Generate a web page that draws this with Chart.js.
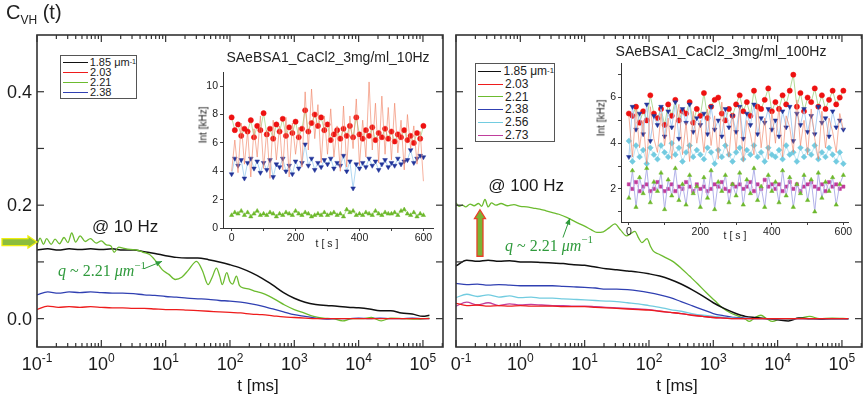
<!DOCTYPE html>
<html>
<head>
<meta charset="utf-8">
<script src="https://cdn.jsdelivr.net/npm/chart.js@4.4.1/dist/chart.umd.min.js"></script>
<style>
  body { margin:0; width:865px; height:396px; position:relative; overflow:hidden; background:#fff;
         font-family:"Liberation Sans", Arial, sans-serif; color:#222; }
  canvas { position:absolute; }
  .txt { position:absolute; white-space:nowrap; }
  .rot { position:absolute; white-space:nowrap; transform:translate(-50%,-50%) rotate(-90deg); font-size:10px; }
  .ctr { position:absolute; white-space:nowrap; transform:translate(-50%,-50%); }
  .legend { position:absolute; border:1px solid #555; background:#fff; box-sizing:border-box; padding:1px 0 0 2px; }
  .legend div { display:flex; align-items:center; white-space:nowrap; }
  .legend span.ln { display:inline-block; width:25px; height:0; border-top-width:1.6px; border-top-style:solid; margin-right:2px; }
  sup { font-size:65%; vertical-align:5px; line-height:0; }
</style>
</head>
<body>
<canvas id="mainL" width="450" height="396" style="left:0;top:0"></canvas>
<canvas id="mainR" width="415" height="396" style="left:450px;top:0"></canvas>
<canvas id="insetL" width="255" height="190" style="left:185px;top:62px"></canvas>
<canvas id="insetR" width="280" height="190" style="left:585px;top:55px"></canvas>

<div class="txt" style="left:6px;top:1px;font-size:20px">C<sub style="font-size:12px">VH</sub> (t)</div>

<div class="txt" style="left:220px;top:49px;width:216px;text-align:center;font-size:14px">SAeBSA1_CaCl2_3mg/ml_10Hz</div>
<div class="txt" style="left:610px;top:43px;width:222px;text-align:center;font-size:14px">SAeBSA1_CaCl2_3mg/ml_100Hz</div>
<div class="rot" style="left:203px;top:125px">Int [kHz]</div>
<div class="rot" style="left:601px;top:118px">Int [kHz]</div>
<div class="ctr" style="left:327px;top:243px;font-size:10.5px">t [ s ]</div>
<div class="ctr" style="left:735px;top:235px;font-size:10.5px">t [ s ]</div>

<div class="legend" id="legL" style="left:60px;top:55px;width:77px;height:44px;font-size:11px;line-height:10px"></div>
<div class="legend" id="legR" style="left:475px;top:63px;width:80px;height:79px;font-size:12px;line-height:12.8px"></div>

<script>
// ---------- main panels: correlation vs lag time (ms) ----------
const TIME = [0.1, 0.147, 0.215, 0.316, 0.464, 0.681, 1, 1.47, 2.15, 3.16, 4.64, 6.81, 10, 14.7, 21.5, 31.6, 46.4, 68.1,
  100, 147, 215, 316, 464, 681, 1000, 1470, 2150, 3160, 4640, 6810, 10000, 14700, 21500, 31600, 46400, 68100, 100000, 126000];

// 10 Hz
const L_185 = [0.121,0.123,0.121,0.123,0.122,0.123,0.122,0.123,0.121,0.121,0.118,0.115,0.111,0.108,0.107,0.107,0.104,0.100,
  0.095,0.089,0.081,0.071,0.059,0.046,0.036,0.029,0.025,0.023,0.022,0.020,0.019,0.017,0.014,0.014,0.010,0.008,0.004,0.006];
const L_203 = [0.016,0.022,0.020,0.021,0.020,0.021,0.020,0.019,0.019,0.018,0.018,0.017,0.016,0.016,0.015,0.014,0.013,0.012,
  0.011,0.010,0.008,0.007,0.005,0.003,0.002,0.001,0,0,0,0,0,0,0,0,0,0,0,0];
const L_238 = [0.042,0.047,0.045,0.047,0.046,0.047,0.046,0.045,0.045,0.044,0.042,0.041,0.039,0.038,0.036,0.035,0.034,0.032,
  0.031,0.029,0.026,0.022,0.017,0.012,0.007,0.004,0.001,-0.001,0,0,0.001,0,0.001,0,0,0.001,0,0];
const L_221_T = [0.1,0.112,0.126,0.141,0.166,0.191,0.224,0.263,0.302,0.347,0.398,0.468,0.562,0.676,0.832,
  1,1.2,1.41,1.58,1.86,2.24,2.82,3.55,4.47,5.62,7.08,8.91,11.2,14.1,17.8,22.4,30.2,37.2,45.7,52.5,61.7,69.2,75.9,89.1,
  100,110,126,141,166,200,251,316,398,501,708,1000,1410,2000,2820,3980,5620,7940,11200,15800,22400,31600,50100,79400,126000];
const L_221 = [0.130,0.142,0.131,0.141,0.131,0.140,0.132,0.143,0.134,0.151,0.135,0.146,0.136,0.141,0.133,
  0.137,0.130,0.128,0.117,0.126,0.124,0.122,0.121,0.117,0.113,0.101,0.086,0.078,0.069,0.073,0.085,0.101,0.085,0.060,0.072,0.089,0.075,0.060,0.081,
  0.065,0.061,0.075,0.058,0.054,0.052,0.048,0.045,0.040,0.034,0.024,0.016,0.010,0.004,0.001,0.000,-0.004,0.000,0.000,0.002,-0.004,0.001,0.000,-0.001,0.001];

// 100 Hz
const R_185 = [0.093,0.103,0.101,0.103,0.101,0.102,0.100,0.100,0.099,0.098,0.097,0.095,0.094,0.091,0.088,0.086,0.084,0.082,
  0.079,0.075,0.069,0.061,0.051,0.040,0.028,0.018,0.010,0.004,0.002,0.000,-0.002,-0.004,0.001,0.000,-0.001,0.000,0.000,0.000];
const R_203 = [0.027,0.023,0.024,0.022,0.023,0.022,0.023,0.022,0.022,0.022,0.021,0.021,0.021,0.020,0.019,0.018,0.017,0.016,
  0.015,0.013,0.011,0.009,0.006,0.004,0.002,0.001,0,0,0,0,0,0,0,0,0,0,0,0];
const R_238 = [0.062,0.060,0.061,0.059,0.060,0.059,0.058,0.058,0.058,0.058,0.057,0.056,0.055,0.054,0.052,0.052,0.051,0.049,
  0.046,0.042,0.037,0.030,0.023,0.016,0.009,0.005,0.002,0.001,0,0,0,0,0,0,0,0,0,0];
const R_256 = [0.037,0.043,0.039,0.042,0.038,0.040,0.037,0.038,0.036,0.036,0.035,0.034,0.033,0.032,0.031,0.030,0.028,0.026,
  0.023,0.020,0.016,0.013,0.009,0.006,0.004,0.002,0.001,0,0,0,0,0,0,0,0,0,0,0];
const R_273 = [0.022,0.029,0.024,0.028,0.023,0.026,0.024,0.025,0.024,0.023,0.023,0.022,0.022,0.021,0.020,0.019,0.018,0.017,
  0.016,0.013,0.011,0.009,0.006,0.004,0.002,0.001,0,0,0,0,0,0,0,0,0,0,0,0];
const R_221_T = [0.1,0.112,0.126,0.141,0.166,0.191,0.224,0.251,0.282,0.316,0.355,0.417,0.501,0.631,0.794,
  1,1.26,1.58,2.0,2.51,3.16,3.98,5.37,7.08,10,12.6,15.5,19.5,24,29.5,36.3,44.7,52.5,60.3,69.2,77.6,93.3,
  105,117,141,178,234,316,427,575,776,1050,1380,1860,2510,3160,3630,4470,5500,6760,8320,11200,15800,22400,31600,44700,70800,126000];
const R_221 = [0.204,0.198,0.200,0.197,0.202,0.199,0.203,0.198,0.210,0.197,0.204,0.200,0.203,0.199,0.201,
  0.198,0.197,0.195,0.193,0.190,0.187,0.184,0.178,0.171,0.163,0.157,0.152,0.153,0.160,0.167,0.156,0.146,0.150,0.154,0.142,0.134,0.141,
  0.128,0.119,0.114,0.108,0.101,0.089,0.075,0.061,0.046,0.032,0.019,0.010,0.004,-0.001,-0.005,0.002,0.006,0.000,-0.005,0.000,-0.001,0.001,0.004,0.000,0.001,0.000];

// axis ticks of main panels
const X_DECADES = [0.1, 1, 10, 100, 1000, 10000, 100000];
const Y_TICKS = [0, 0.1, 0.2, 0.3, 0.4];
const Y_LABELS = [0, 0.2, 0.4];

// ---------- insets: intensity vs time (s) ----------
const INSET_T = [0,10,20,30,40,50,60,70,80,90,100,110,120,130,140,150,160,170,180,190,200,210,220,230,240,250,260,270,280,290,300,
  310,320,330,340,350,360,370,380,390,400,410,420,430,440,450,460,470,480,490,500,510,520,530,540,550,560,570,580,590,600];

const I10_185 = [4.0,6.2,3.9,7.4,4.5,6.8,3.6,7.0,5.0,7.9,4.2, 6.9,3.5,7.6,4.8,7.2,4.1,7.8,3.6,7.4,5.2, 7.1,4.3,9.6,5.5,9.8,6.3,8.7,4.6,7.9,5.2,
  8.4,5.0,7.2,4.0,8.6,4.3,7.9,5.6,9.1,4.4, 7.6,5.0,10.3,5.5,8.8,4.6,9.3,5.2,8.5,4.8, 8.8,5.3,7.6,4.1,8.0,5.6,7.2,4.5,6.8,3.3];
const I10_203 = [7.8,6.9,7.3,6.5,7.0,6.8,7.6,6.4,7.2,6.9,8.1, 6.6,7.0,6.3,7.3,6.8,7.7,6.5,7.1,6.7,7.5, 6.4,7.0,8.3,6.8,7.4,8.0,7.2,7.8,6.9,7.3,
  6.2,6.6,6.9,6.3,7.0,6.5,7.2,6.4,7.8,6.6, 6.3,6.9,6.5,7.1,6.2,6.7,6.4,7.0,6.3,6.8, 6.1,6.6,6.4,6.9,6.2,6.5,6.0,6.7,6.3,7.2];
const I10_221 = [0.9,1.1,1.0,1.2,0.9,1.1,0.8,1.0,1.2,0.9,1.0, 0.9,1.1,1.0,0.8,1.0,0.9,1.1,1.0,0.9,1.2, 1.0,0.9,1.1,1.0,0.8,0.9,1.0,0.9,1.1,0.9,
  1.0,1.1,0.9,1.0,0.8,1.3,1.1,1.2,0.9,1.0, 0.9,1.1,1.0,0.9,1.2,1.0,0.9,1.1,1.0,1.0, 1.1,0.9,1.2,1.3,1.0,0.9,1.1,0.8,1.0,0.9];
const I10_238 = [3.8,4.9,4.4,4.8,3.5,4.6,4.9,4.2,4.7,3.9,4.6, 4.1,4.8,3.6,4.5,4.3,4.9,4.0,4.4,3.8,4.7, 4.2,4.6,5.9,4.4,4.9,4.1,4.6,4.3,4.8,4.5,
  4.9,4.2,4.6,4.4,5.1,4.0,4.7,2.8,4.5,4.2, 4.6,4.3,4.9,4.4,4.7,4.1,4.5,4.8,4.3,4.6, 4.4,4.9,4.5,4.7,4.8,5.5,4.6,4.9,5.1,5.0];

const I100_185 = [5.2,3.4,5.5,3.8,5.0,3.1,5.6,4.2,3.6,5.3,3.9, 5.1,3.3,4.8,5.7,3.5,4.9,3.2,5.4,4.0,5.0, 3.6,5.5,3.9,5.2,3.3,5.8,4.1,3.4,5.3,3.7,
  5.6,3.2,5.0,4.4,3.5,5.7,3.8,5.1,3.3,5.4, 4.0,5.6,3.4,5.2,4.7,3.6,5.9,3.9,5.0,3.5, 5.5,4.2,3.3,5.4,3.8,5.1,4.5,3.6,5.3,4.6];
const I100_203 = [5.3,5.2,5.6,4.9,5.4,5.0,6.1,5.3,5.1,5.5,4.8, 5.7,5.2,5.9,5.0,5.4,5.3,5.8,4.9,5.5,5.2, 6.2,5.1,5.6,5.9,6.0,5.3,5.0,5.5,5.2,5.7,
  6.1,5.4,5.8,5.2,6.3,5.6,5.5,5.9,6.4,5.4, 5.8,5.5,6.1,5.7,6.3,7.0,5.6,6.2,5.4,6.0, 5.8,6.4,5.6,6.1,5.5,5.9,6.3,5.7,6.0,6.3];
const I100_221 = [1.6,2.8,1.2,2.5,1.8,2.9,1.4,2.3,1.9,2.7,1.1, 2.4,1.7,2.9,1.5,2.2,1.3,2.6,1.8,2.1,1.2, 2.5,1.6,2.8,1.1,2.3,1.9,2.6,1.4,2.2,1.7,
  2.7,1.3,2.4,1.8,2.9,1.5,2.1,1.2,2.6,1.9, 2.3,1.4,2.8,1.7,2.5,1.2,2.2,1.8,2.6,1.5, 2.4,1.0,2.7,1.6,2.3,1.9,2.5,1.3,2.2,2.6];
const I100_238 = [3.4,5.6,4.6,5.3,4.4,5.7,4.1,5.2,4.8,5.6,4.3, 5.4,4.7,5.8,4.2,5.5,4.9,5.7,4.5,5.1,4.8, 5.3,4.4,5.6,4.6,5.0,4.3,5.5,4.7,5.2,4.5,
  5.6,4.2,5.3,4.8,5.7,4.4,5.1,4.9,5.5,4.6, 5.0,4.3,5.4,4.7,5.6,4.1,5.3,4.8,5.5,4.5, 5.2,4.4,5.6,4.9,5.1,4.3,5.4,4.7,5.0,4.6];
const I100_256 = [4.1,3.2,3.9,3.4,3.7,3.1,3.8,3.5,3.3,3.9,3.6, 3.4,4.0,3.5,3.8,3.2,3.6,3.9,3.4,3.7,3.5, 3.3,3.8,3.6,3.1,3.7,3.4,3.9,3.5,3.2,3.6,
  3.8,3.3,3.7,3.5,3.9,3.4,3.6,3.2,3.8,3.5, 3.4,3.7,3.3,3.9,3.5,3.6,3.2,3.8,3.4,3.7, 3.5,3.9,3.3,3.6,3.4,3.8,3.5,3.2,3.6,3.1];
const I100_273 = [2.2,2.0,2.3,1.9,2.1,2.2,1.9,2.0,2.3,2.1,1.9, 2.0,2.2,1.9,2.1,2.0,2.3,2.1,1.9,2.2,2.0, 2.1,1.9,2.0,2.2,2.1,2.3,2.0,1.9,2.2,2.1,
  2.2,2.0,2.1,2.3,1.9,2.2,2.0,2.4,2.1,2.2, 2.0,2.2,1.9,2.1,2.3,2.0,2.2,1.9,2.1,2.2, 2.3,2.1,2.0,2.2,1.9,2.3,2.1,2.2,2.0,2.1];

const Q_COLOR = '#2f9a3c';
const FONT = '"Liberation Sans", Arial, sans-serif';

function line(ctx, x1, y1, x2, y2) { ctx.beginPath(); ctx.moveTo(x1, y1); ctx.lineTo(x2, y2); ctx.stroke(); }

function drawQ(ctx, x, y) {
  const parts = [['q', 'italic 16px "Liberation Serif"', 0], [' ~ 2.21 ', '16px "Liberation Serif"', 0],
                 ['\u03bcm', 'italic 16px "Liberation Serif"', 0], ['\u22121', '11px "Liberation Serif"', -6]];
  ctx.fillStyle = Q_COLOR; ctx.textAlign = 'left'; ctx.textBaseline = 'middle';
  let cx = x;
  parts.forEach(([s, f, dy]) => { ctx.font = f; ctx.fillText(s, cx, y + dy); cx += ctx.measureText(s).width; });
}

// frame, inward ticks, labels and annotations of the main panels
const mainAxes = {
  id: 'mainAxes',
  afterDraw(chart, args, o) {
    const {ctx, chartArea: a, scales: {x, y}} = chart;
    ctx.save();
    ctx.strokeStyle = '#333';
    ctx.lineWidth = 1.2;
    X_DECADES.forEach(d => {
      for (let m = 1; m <= 9; m++) {
        const v = d * m;
        if (v > x.max) break;
        const px = x.getPixelForValue(v), len = m === 1 ? 7 : 4;
        line(ctx, px, a.bottom, px, a.bottom - len);
        line(ctx, px, a.top, px, a.top + len);
      }
    });
    Y_TICKS.forEach(v => {
      const py = y.getPixelForValue(v);
      line(ctx, a.left, py, a.left + 7, py);
      line(ctx, a.right, py, a.right - 7, py);
    });
    ctx.lineWidth = 1.6;
    ctx.strokeRect(a.left, a.top, a.right - a.left, a.bottom - a.top);

    ctx.fillStyle = '#1a1a1a';
    if (o.yLabels) {
      ctx.font = '18px ' + FONT; ctx.textAlign = 'right'; ctx.textBaseline = 'middle';
      Y_LABELS.forEach(v => ctx.fillText(v.toFixed(1), a.left - 5, y.getPixelForValue(v) + 1));
    }
    ctx.textBaseline = 'alphabetic'; ctx.textAlign = 'left';
    X_DECADES.forEach(d => {
      const e = Math.round(Math.log10(d)), sup = e < 0 ? '-' + (-e) : '' + e;
      ctx.font = '18px ' + FONT; const w1 = ctx.measureText('10').width;
      ctx.font = '12px ' + FONT; const w2 = ctx.measureText(sup).width;
      const x0 = x.getPixelForValue(d) - (w1 + w2) / 2;
      ctx.font = '18px ' + FONT; ctx.fillText('10', x0, a.bottom + 23);
      ctx.font = '12px ' + FONT; ctx.fillText(sup, x0 + w1, a.bottom + 15);
    });
    ctx.font = '17px ' + FONT; ctx.textAlign = 'center';
    ctx.fillText('t [ms]', (a.left + a.right) / 2 + 18, a.bottom + 44);

    // annotations
    ctx.font = '17px ' + FONT; ctx.textBaseline = 'middle';
    ctx.fillText(o.hz.text, x.getPixelForValue(o.hz.x), y.getPixelForValue(o.hz.y));
    drawQ(ctx, x.getPixelForValue(o.q.x), y.getPixelForValue(o.q.y));
    const fx = x.getPixelForValue(o.qArrow[0]), fy = y.getPixelForValue(o.qArrow[1]);
    const tx = x.getPixelForValue(o.qArrow[2]), ty = y.getPixelForValue(o.qArrow[3]);
    ctx.strokeStyle = Q_COLOR; ctx.fillStyle = Q_COLOR; ctx.lineWidth = 1;
    line(ctx, fx, fy, tx, ty);
    const ang = Math.atan2(ty - fy, tx - fx);
    ctx.beginPath(); ctx.moveTo(tx, ty);
    ctx.lineTo(tx - 7 * Math.cos(ang - 0.4), ty - 7 * Math.sin(ang - 0.4));
    ctx.lineTo(tx - 7 * Math.cos(ang + 0.4), ty - 7 * Math.sin(ang + 0.4));
    ctx.closePath(); ctx.fill();

    // big marker arrows
    const b = o.big;
    ctx.beginPath();
    if (b.dir === 'right') {
      const tipX = a.left, tipY = y.getPixelForValue(b.y);
      ctx.moveTo(tipX, tipY); ctx.lineTo(tipX - 9, tipY - 6); ctx.lineTo(tipX - 9, tipY - 3.5);
      ctx.lineTo(tipX - 35, tipY - 3.5); ctx.lineTo(tipX - 35, tipY + 3.5); ctx.lineTo(tipX - 9, tipY + 3.5);
      ctx.lineTo(tipX - 9, tipY + 6);
    } else {
      const cx = x.getPixelForValue(b.x), tipY = y.getPixelForValue(b.y2), baseY = y.getPixelForValue(b.y1);
      ctx.moveTo(cx, tipY); ctx.lineTo(cx + 5.5, tipY + 9); ctx.lineTo(cx + 3, tipY + 9);
      ctx.lineTo(cx + 3, baseY); ctx.lineTo(cx - 3, baseY); ctx.lineTo(cx - 3, tipY + 9); ctx.lineTo(cx - 5.5, tipY + 9);
    }
    ctx.closePath();
    ctx.fillStyle = b.fill; ctx.fill();
    ctx.strokeStyle = b.stroke; ctx.lineWidth = 1.3; ctx.stroke();
    ctx.restore();
  }
};

function curve(t, v, color, w) {
  return { data: t.map((tt, i) => ({x: tt, y: v[i]})), borderColor: color, borderWidth: w || 1.3,
           pointRadius: 0, cubicInterpolationMode: 'monotone' };
}

function mainChart(id, datasets, pad, annot) {
  return new Chart(document.getElementById(id), {
    type: 'line',
    data: { datasets },
    options: {
      responsive: false, animation: false, events: [],
      layout: { padding: pad },
      plugins: { legend: { display: false }, tooltip: { enabled: false }, mainAxes: annot },
      scales: {
        x: { type: 'logarithmic', min: 0.1, max: 205000, display: false },
        y: { type: 'linear', min: -0.05, max: 0.5, display: false }
      }
    },
    plugins: [mainAxes]
  });
}

const C = { black:'#111111', red:'#ee1c1c', green:'#6cbb2f', blue:'#3040b2', cyan:'#72cce0', magenta:'#c03e9c' };

mainChart('mainL', [
  curve(TIME, L_203, C.red), curve(TIME, L_238, C.blue), curve(L_221_T, L_221, C.green), curve(TIME, L_185, C.black, 1.5)
], {left: 37, right: 7, top: 35, bottom: 49}, {
  yLabels: true,
  hz: {text: '@ 10 Hz', x: 2.34, y: 0.161},
  q: {x: 0.212, y: 0.082},
  qArrow: [4.6, 0.088, 8.8, 0.101],
  big: {dir: 'right', y: 0.135, fill: '#8cbd3c', stroke: '#eeee10'}
});

mainChart('mainR', [
  curve(TIME, R_203, C.red), curve(TIME, R_273, C.magenta), curve(TIME, R_256, C.cyan), curve(TIME, R_238, C.blue),
  curve(TIME, R_185, C.black, 1.5), curve(R_221_T, R_221, C.green)
], {left: 6, right: 3, top: 35, bottom: 49}, {
  yLabels: false,
  hz: {text: '@ 100 Hz', x: 1.23, y: 0.233},
  q: {x: 0.578, y: 0.127},
  qArrow: [4.6, 0.143, 5.9, 0.177],
  big: {dir: 'up', x: 0.236, y1: 0.110, y2: 0.192, fill: '#7bb334', stroke: '#e8402a'}
});

// ---------- insets ----------
function series(v, color, line, style, rot, r) {
  return { data: INSET_T.map((t, i) => ({x: t, y: v[i]})), showLine: true, borderColor: line, borderWidth: 0.9,
           pointRadius: r === undefined ? 2.5 : r, pointStyle: style || 'circle', pointRotation: rot || 0,
           pointBackgroundColor: color, pointBorderColor: color, pointBorderWidth: 0.5, tension: 0 };
}

function insetChart(id, datasets, o) {
  const tickFont = { family: FONT, size: 10.5 };
  return new Chart(document.getElementById(id), {
    type: 'line',
    data: { datasets },
    options: {
      responsive: false, animation: false, events: [],
      layout: { padding: { top: o.top, right: o.right, left: 0, bottom: 0 } },
      plugins: { legend: { display: false }, tooltip: { enabled: false } },
      scales: {
        x: { type: 'linear', min: o.xmin, max: o.xmax,
             afterFit(s) { s.height = o.xh; },
             afterBuildTicks(s) { s.ticks = [0, 100, 200, 300, 400, 500, 600].map(v => ({value: v})); },
             ticks: { callback: v => v % 200 === 0 ? v : '', font: tickFont, color: '#222', maxRotation: 0, autoSkip: false, padding: 1 },
             grid: { drawOnChartArea: false, tickLength: 3, color: '#444' }, border: { color: '#333', width: 1 } },
        y: { type: 'linear', min: o.ymin, max: o.ymax,
             afterFit(s) { s.width = o.yw; },
             afterBuildTicks(s) { s.ticks = o.yticks.map(v => ({value: v})); },
             ticks: { callback: v => o.ylabels.includes(v) ? v : '', font: tickFont, color: '#222', autoSkip: false, padding: 2 },
             grid: { drawOnChartArea: false, tickLength: 3, color: '#444' }, border: { color: '#333', width: 1 } }
      }
    }
  });
}

insetChart('insetL', [
  series(I10_185, '#f4a080', 'rgba(240,130,100,0.7)', 'circle', 0, 0),
  series(I10_221, '#6cb82a', '#a8d888', 'triangle', 0, 2.5),
  series(I10_238, '#22359a', '#a6d2f0', 'triangle', 180, 2.7),
  series(I10_203, '#ee1111', '#b4dc98', 'circle', 0, 2.6)
], { top: 10, right: 7, xmin: -27, xmax: 630, xh: 24, ymin: 0, ymax: 11, yw: 38,
     yticks: [0, 2, 4, 6, 8, 10], ylabels: [0, 2, 4, 6, 8, 10] });

insetChart('insetR', [
  series(I100_185, '#f4a080', 'rgba(240,130,100,0.7)', 'circle', 0, 0),
  series(I100_221, '#6cb82a', '#a9a9e6', 'triangle', 0, 2.5),
  series(I100_273, '#c03c9c', '#e6a6d8', 'rect', 0, 2.3),
  series(I100_256, '#72cbe0', '#b6e2f2', 'rectRot', 0, 2.9),
  series(I100_238, '#22359a', '#a2c8f0', 'triangle', 180, 2.7),
  series(I100_203, '#ee1111', '#a8d68c', 'circle', 0, 2.6)
], { top: 8, right: 17, xmin: -22, xmax: 613, xh: 23, ymin: 0.55, ymax: 7.5, yw: 36,
     yticks: [1, 2, 3, 4, 5, 6, 7], ylabels: [2, 4, 6] });

// ---------- legends ----------
function legend(id, items) {
  document.getElementById(id).innerHTML = items.map(([label, color]) =>
    `<div><span class="ln" style="border-top-color:${color}"></span>${label}</div>`).join('');
}
legend('legL', [['1.85 \u03bcm<sup>-1</sup>', C.black], ['2.03', C.red], ['2.21', C.green], ['2.38', C.blue]]);
legend('legR', [['1.85 \u03bcm <sup>-1</sup>', C.black], ['2.03', C.red], ['2.21', C.green], ['2.38', C.blue],
                ['2.56', C.cyan], ['2.73', C.magenta]]);
</script>
</body>
</html>
